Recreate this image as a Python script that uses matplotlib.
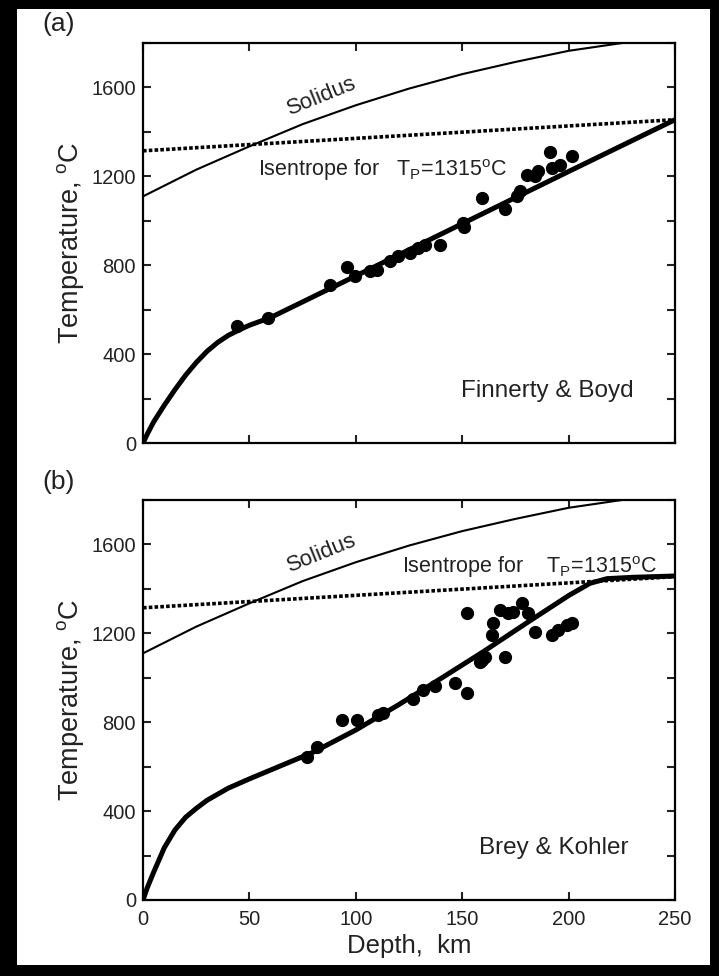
import numpy as np
import matplotlib
matplotlib.use("Agg")
import matplotlib.pyplot as plt
from matplotlib.patches import Rectangle

plt.rcParams['font.family'] = ['Liberation Sans', 'DejaVu Sans']
plt.rcParams['mathtext.fontset'] = 'custom'
plt.rcParams['mathtext.rm'] = 'Liberation Sans'

# Solidus (profundidad km, temperatura C)
solidoProf = [0, 25, 50, 75, 100, 125, 150, 175, 200, 225, 250]
solidoTemp = [1110, 1230, 1335, 1435, 1520, 1595, 1660, 1715, 1765, 1800, 1835]

# Isentropa Tp = 1315 C
isenProf = [0, 250]
isenTemp = [1315, 1455]

# Geoterma panel (a)
geoProfA = [0, 2, 5, 10, 15, 20, 25, 30, 35, 40, 45, 50, 60, 100, 150, 200, 250]
geoTempA = [0, 40, 95, 170, 240, 305, 362, 412, 452, 484, 508, 530, 565, 752, 987, 1222, 1455]

# Geoterma panel (b)
geoProfB = [0, 2, 5, 10, 15, 20, 25, 30, 40, 50, 60, 80, 100, 120, 140, 160, 180, 200, 210, 218, 230, 250]
geoTempB = [0, 55, 125, 235, 315, 372, 412, 448, 503, 545, 585, 665, 765, 878, 997, 1118, 1245, 1370, 1425, 1446, 1452, 1458]

# Datos Finnerty & Boyd
profA = [44.2, 58.7, 87.9, 95.9, 99.6, 106.7, 110, 116, 120, 125.5, 129, 132.5, 139.6,
         150.4, 151, 159.3, 170, 175.7, 177, 180.5, 184, 185.6, 191, 192, 196, 201.6]
tempA = [526, 562, 710, 791, 750, 773, 778, 818, 840, 854, 876, 890, 890,
         989, 970, 1101, 1052, 1110, 1133, 1205, 1200, 1222, 1308, 1236, 1250, 1290]

# Datos Brey & Kohler
profB = [77, 81.8, 93.5, 100.6, 110.4, 112.8, 126.9, 131.6, 137.2, 146.6, 152.3, 152.3,
         158.4, 159.3, 160.7, 164, 164.5, 167.8, 170.1, 171.5, 173.9, 178.1, 180.9,
         184.2, 192.2, 195, 199.2, 201.6]
tempB = [643, 688, 809, 809, 831, 840, 905, 944, 962, 975, 930, 1290,
         1070, 1080, 1092, 1191, 1245, 1303, 1092, 1290, 1294, 1335, 1290,
         1204, 1191, 1213, 1236, 1245]

colorTexto = '#222222'

fig = plt.figure(figsize=(7.19, 9.76), dpi=100)
fig.patch.set_facecolor('black')
fig.patches.append(Rectangle((17/719, 1 - 965/976), (710 - 17)/719, (965 - 9)/976,
                             transform=fig.transFigure, facecolor='white',
                             edgecolor='none', zorder=-1))

ax1 = fig.add_axes([0.1989, 0.5461, 0.740, 0.4098])
ax2 = fig.add_axes([0.1989, 0.0779, 0.740, 0.4098])

# (eje, geoterma x, geoterma y, datos x, datos y, autor, posicion autor, posicion isentropa, texto isentropa)
paneles = [
    (ax1, geoProfA, geoTempA, profA, tempA, 'Finnerty & Boyd', (230.5, 232), (54, 1227),
     'Isentrope for   T$_\\mathregular{P}$=1315$^\\mathregular{o}$C'),
    (ax2, geoProfB, geoTempB, profB, tempB, 'Brey & Kohler', (228, 232), (121.5, 1500),
     'Isentrope for    T$_\\mathregular{P}$=1315$^\\mathregular{o}$C'),
]

for ax, gx, gy, px, py, autor, posAutor, posIsen, textoIsen in paneles:
    ax.plot(solidoProf, solidoTemp, color='black', lw=1.5, zorder=2)
    ax.plot(isenProf, isenTemp, color='black', lw=2.6, linestyle=(0, (1, 0.6)), zorder=2)
    ax.plot(gx, gy, color='black', lw=3.6, solid_capstyle='round', zorder=3)
    ax.plot(px, py, 'o', color='black', markersize=8.5, zorder=4)

    ax.set_xlim(0, 250)
    ax.set_ylim(0, 1800)
    ax.set_xticks([0, 50, 100, 150, 200, 250])
    ax.set_yticks(np.arange(0, 1801, 200))
    ax.set_yticklabels(['0', '', '400', '', '800', '', '1200', '', '1600', ''])
    ax.tick_params(direction='in', length=6, width=1.5, top=True, right=True,
                   labelsize=14.5, colors=colorTexto, pad=5)
    for s in ax.spines.values():
        s.set_linewidth(1.6)
    ax.set_ylabel('Temperature, $^\\mathregular{o}$C', fontsize=19.5,
                  color=colorTexto, labelpad=4)

    ax.text(84, 1560, 'Solidus', rotation=22, fontsize=16, color=colorTexto,
            ha='center', va='center')
    ax.text(posIsen[0], posIsen[1], textoIsen,
            fontsize=15.5, color=colorTexto, ha='left', va='center')
    ax.text(posAutor[0], posAutor[1], autor, fontsize=17.5,
            color=colorTexto, ha='right', va='center')

ax1.set_xticklabels([])
ax2.tick_params(axis='x', pad=7)
ax2.set_xlabel('Depth,  km', fontsize=18.5, color=colorTexto, labelpad=4)

fig.text(42/719, 1 - 24/976, '(a)', fontsize=19, color=colorTexto, va='center')
fig.text(42/719, 1 - 482/976, '(b)', fontsize=19, color=colorTexto, va='center')

fig.savefig('out.png', dpi=100, facecolor=fig.get_facecolor())
